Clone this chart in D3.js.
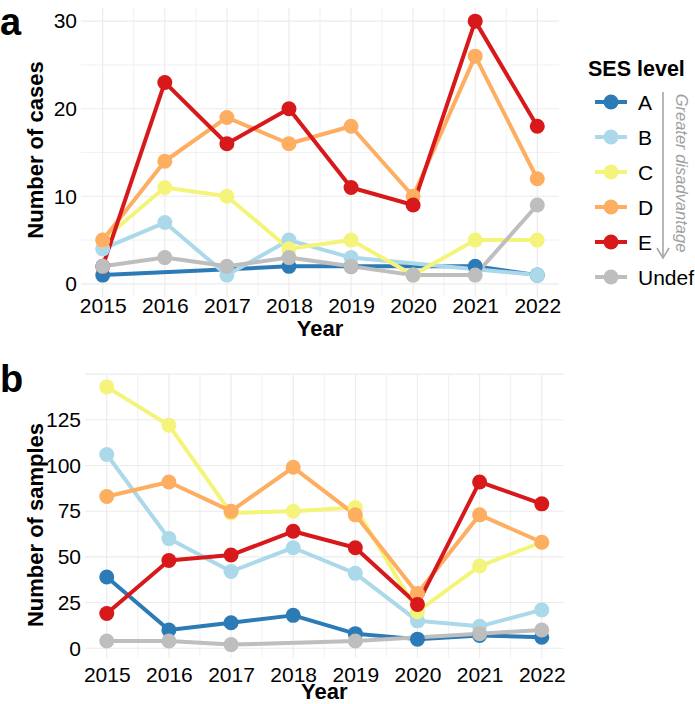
<!DOCTYPE html>
<html>
<head>
<meta charset="utf-8">
<script src="https://cdn.jsdelivr.net/npm/d3@7"></script>
<style>
  body { margin: 0; background: #fff; }
  text { font-family: "Liberation Sans", Arial, sans-serif; fill: #000; }
</style>
</head>
<body>
<svg width="695" height="704"></svg>
<script>
// data (null = no point that year)
var years = [2015, 2016, 2017, 2018, 2019, 2020, 2021, 2022];
var levels = ["A", "B", "C", "D", "E", "Undef"];
var colors = ["#2C7BB6", "#ABD9E9", "#F5F47A", "#FDAE61", "#D7191C", "#BEBEBE"];

var casesA     = [1, null, null, 2, 2, null, 2, 1];
var casesB     = [4, 7, 1, 5, 3, null, null, 1];
var casesC     = [5, 11, 10, 4, 5, 1, 5, 5];
var casesD     = [5, 14, 19, 16, 18, 10, 26, 12];
var casesE     = [2, 23, 16, 20, 11, 9, 30, 18];
var casesUndef = [2, 3, 2, 3, 2, 1, 1, 9];

var samplesA     = [39, 10, 14, 18, 8, 5, 7, 6];
var samplesB     = [106, 60, 42, 55, 41, 15, 12, 21];
var samplesC     = [143, 122, 74, 75, 77, 20, 45, 58];
var samplesD     = [83, 91, 75, 99, 73, 30, 73, 58];
var samplesE     = [19, 48, 51, 64, 55, 24, 91, 79];
var samplesUndef = [4, 4, 2, null, 4, null, 8, 10];

var casesTicks = [0, 10, 20, 30];
var casesMinor = [5, 15, 25];
var samplesTicks = [0, 25, 50, 75, 100, 125];
var samplesGrid = [0, 25, 50, 75, 100, 125, 150];

var svg = d3.select("svg");

function drawPanel(p) {
  var x = d3.scaleLinear().domain([2014.65, 2022.35]).range([p.left, p.right]);
  var y = d3.scaleLinear().domain(p.ydom).range([p.bottom, p.top]);
  var g = svg.append("g");

  // grid
  var vx = [];
  years.forEach(function (yr) { vx.push(yr); if (yr < 2022) vx.push(yr + 0.5); });
  g.selectAll(".vg").data(vx).enter().append("line")
    .attr("x1", function (d) { return x(d); }).attr("x2", function (d) { return x(d); })
    .attr("y1", p.top).attr("y2", p.bottom)
    .attr("stroke", "#EBEBEB").attr("stroke-width", function (d) { return d % 1 ? 0.7 : 1.1; });
  g.selectAll(".hg").data(p.grid.concat(p.minor)).enter().append("line")
    .attr("y1", function (d) { return y(d); }).attr("y2", function (d) { return y(d); })
    .attr("x1", p.left).attr("x2", p.right)
    .attr("stroke", "#EBEBEB").attr("stroke-width", function (d) { return p.minor.indexOf(d) >= 0 ? 0.7 : 1.1; });

  // axes (labels only)
  var xa = g.append("g").attr("transform", "translate(0," + p.bottom + ")")
    .call(d3.axisBottom(x).tickValues(years).tickFormat(d3.format("d")).tickSize(0).tickPadding(p.xpad));
  var ya = g.append("g").attr("transform", "translate(" + p.left + ",0)")
    .call(d3.axisLeft(y).tickValues(p.ticks).tickSize(0).tickPadding(4));
  [xa, ya].forEach(function (a) {
    a.select(".domain").remove();
    a.selectAll("text").style("font-size", "21px").attr("fill", "#000")
      .style("font-family", "'Liberation Sans', Arial, sans-serif");
  });

  // titles
  g.append("text").attr("x", (p.left + p.right) / 2).attr("y", p.xtitleY)
    .attr("text-anchor", "middle").style("font-size", "22px").style("font-weight", "bold").text("Year");
  g.append("text").attr("transform", "translate(43," + p.ytitleY + ") rotate(-90)")
    .attr("text-anchor", "middle").style("font-size", "22px").style("font-weight", "bold").text(p.ytitle);
  g.append("text").attr("x", 0).attr("y", p.tagY)
    .style("font-size", "38px").style("font-weight", "bold").text(p.tag);

  var line = d3.line().x(function (d) { return x(d.year); }).y(function (d) { return y(d.v); });
  var series = p.series.map(function (vals, i) {
    return {
      color: colors[i],
      pts: years.map(function (yr, j) { return { year: yr, v: vals[j] }; })
        .filter(function (d) { return d.v != null; })
    };
  });

  g.selectAll(".ln").data(series).enter().append("path")
    .attr("d", function (s) { return line(s.pts); })
    .attr("fill", "none").attr("stroke", function (s) { return s.color; })
    .attr("stroke-width", 4).attr("stroke-linejoin", "round");

  series.forEach(function (s) {
    g.selectAll(null).data(s.pts).enter().append("circle")
      .attr("cx", function (d) { return x(d.year); })
      .attr("cy", function (d) { return y(d.v); })
      .attr("r", 7.5).attr("fill", s.color);
  });
}

drawPanel({
  left: 81, right: 559, top: 8, bottom: 297, ydom: [-1.5, 31.5],
  ticks: casesTicks, grid: casesTicks, minor: casesMinor,
  series: [casesA, casesB, casesC, casesD, casesE, casesUndef],
  xpad: 1, xtitleY: 336, ytitle: "Number of cases", ytitleY: 150,
  tag: "a", tagY: 35
});

drawPanel({
  left: 85, right: 563.5, top: 374, bottom: 657.5, ydom: [-5.05, 150.05],
  ticks: samplesTicks, grid: samplesGrid, minor: [],
  series: [samplesA, samplesB, samplesC, samplesD, samplesE, samplesUndef],
  xpad: 10, xtitleY: 699, ytitle: "Number of samples", ytitleY: 525,
  tag: "b", tagY: 392
});

// legend
var lg = svg.append("g");
lg.append("text").attr("x", 588).attr("y", 76)
  .style("font-size", "21.5px").style("font-weight", "bold").text("SES level");
var keyY = d3.scalePoint().domain(levels).range([102, 277]);
levels.forEach(function (l, i) {
  var yy = keyY(l);
  lg.append("line").attr("x1", 595).attr("x2", 627).attr("y1", yy).attr("y2", yy)
    .attr("stroke", colors[i]).attr("stroke-width", 4);
  lg.append("circle").attr("cx", 611).attr("cy", yy).attr("r", 7.5).attr("fill", colors[i]);
  lg.append("text").attr("x", 638).attr("y", yy).attr("dy", "0.36em")
    .style("font-size", "21px").text(l);
});
lg.append("line").attr("x1", 663).attr("x2", 663).attr("y1", 92).attr("y2", 257)
  .attr("stroke", "#A6A6A6").attr("stroke-width", 1.6);
lg.append("path").attr("d", "M657,248 L663,258 L669,248")
  .attr("fill", "none").attr("stroke", "#A6A6A6").attr("stroke-width", 1.6);
lg.append("text").attr("transform", "translate(676,173) rotate(90)")
  .attr("text-anchor", "middle").style("font-size", "16.5px").style("font-style", "italic")
  .attr("fill", "#A0A0A0").style("fill", "#A0A0A0").text("Greater disadvantage");
</script>
</body>
</html>
